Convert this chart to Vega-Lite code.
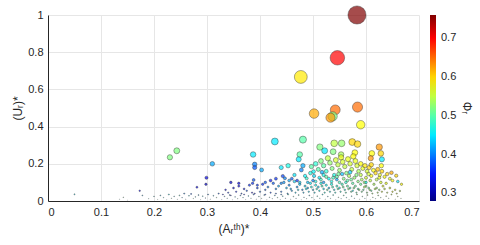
{
  "$schema": "https://vega.github.io/schema/vega-lite/v6.json",
  "width": 371,
  "height": 186,
  "autosize": {"type": "none"},
  "padding": {"left": 48, "top": 15, "right": 61, "bottom": 44},
  "background": "white",
  "config": {
    "view": {"stroke": null},
    "font": "Liberation Sans",
    "axis": {"labelFont": "Liberation Sans", "titleFont": "Liberation Sans", "labelColor": "#262626", "titleColor": "#262626", "labelFontSize": 11, "titleFontSize": 12, "titleFontWeight": "normal", "domainColor": "#262626", "domainWidth": 1, "ticks": false, "gridColor": "#e6e6e6", "gridWidth": 1},
    "legend": {"labelFont": "Liberation Sans", "titleFont": "Liberation Sans", "labelColor": "#262626", "titleColor": "#262626", "labelFontSize": 11, "titleFontSize": 12, "titleFontWeight": "normal"}
  },
  "data": {"values": [
    {"A":0.583,"U":1.0,"phi":0.76},{"A":0.546,"U":0.77,"phi":0.70},{"A":0.477,"U":0.667,"phi":0.59},{"A":0.502,"U":0.47,"phi":0.62},
    {"A":0.542,"U":0.49,"phi":0.65},{"A":0.584,"U":0.505,"phi":0.65},{"A":0.537,"U":0.455,"phi":0.52},{"A":0.533,"U":0.448,"phi":0.63},
    {"A":0.59,"U":0.41,"phi":0.58},{"A":0.428,"U":0.32,"phi":0.45},{"A":0.481,"U":0.33,"phi":0.5},{"A":0.387,"U":0.25,"phi":0.45},
    {"A":0.513,"U":0.29,"phi":0.52},{"A":0.54,"U":0.31,"phi":0.55},{"A":0.554,"U":0.31,"phi":0.53},{"A":0.574,"U":0.317,"phi":0.6},
    {"A":0.584,"U":0.306,"phi":0.6},{"A":0.625,"U":0.29,"phi":0.63},{"A":0.628,"U":0.256,"phi":0.6},{"A":0.63,"U":0.224,"phi":0.45},
    {"A":0.611,"U":0.256,"phi":0.58},{"A":0.609,"U":0.23,"phi":0.63},{"A":0.475,"U":0.25,"phi":0.5},{"A":0.473,"U":0.224,"phi":0.45},
    {"A":0.39,"U":0.197,"phi":0.4},{"A":0.39,"U":0.18,"phi":0.38},{"A":0.403,"U":0.167,"phi":0.42},{"A":0.44,"U":0.18,"phi":0.45},
    {"A":0.453,"U":0.19,"phi":0.47},{"A":0.23,"U":0.235,"phi":0.52},{"A":0.243,"U":0.27,"phi":0.52},{"A":0.31,"U":0.2,"phi":0.42},
    {"A":0.299,"U":0.125,"phi":0.33},{"A":0.298,"U":0.09,"phi":0.32},{"A":0.281,"U":0.074,"phi":0.34},{"A":0.05,"U":0.036,"phi":0.45},
    {"A":0.173,"U":0.055,"phi":0.34},{"A":0.522,"U":0.27,"phi":0.45},{"A":0.538,"U":0.265,"phi":0.52},{"A":0.553,"U":0.25,"phi":0.54},
    {"A":0.579,"U":0.26,"phi":0.58},{"A":0.629,"U":0.19,"phi":0.58},{"A":0.648,"U":0.152,"phi":0.62},{"A":0.657,"U":0.136,"phi":0.6},
    {"A":0.667,"U":0.09,"phi":0.58},{"A":0.664,"U":0.054,"phi":0.55},{"A":0.632,"U":0.08,"phi":0.57},{"A":0.481,"U":0.19,"phi":0.42},
    {"A":0.478,"U":0.167,"phi":0.4},{"A":0.388,"U":0.113,"phi":0.38},{"A":0.386,"U":0.095,"phi":0.36},{"A":0.443,"U":0.134,"phi":0.37},
    {"A":0.447,"U":0.122,"phi":0.4},{"A":0.465,"U":0.14,"phi":0.45},{"A":0.488,"U":0.122,"phi":0.48},{"A":0.497,"U":0.185,"phi":0.5},
    {"A":0.501,"U":0.158,"phi":0.46},
    {"A":0.505,"U":0.2,"phi":0.48},{"A":0.51,"U":0.17,"phi":0.5},{"A":0.515,"U":0.215,"phi":0.52},{"A":0.52,"U":0.19,"phi":0.5},
    {"A":0.525,"U":0.16,"phi":0.48},{"A":0.528,"U":0.23,"phi":0.55},{"A":0.532,"U":0.205,"phi":0.53},{"A":0.536,"U":0.175,"phi":0.52},
    {"A":0.54,"U":0.14,"phi":0.47},{"A":0.543,"U":0.22,"phi":0.56},{"A":0.547,"U":0.195,"phi":0.55},{"A":0.55,"U":0.165,"phi":0.53},
    {"A":0.553,"U":0.235,"phi":0.57},{"A":0.556,"U":0.21,"phi":0.56},{"A":0.56,"U":0.185,"phi":0.55},{"A":0.563,"U":0.15,"phi":0.52},
    {"A":0.566,"U":0.225,"phi":0.57},{"A":0.57,"U":0.2,"phi":0.56},{"A":0.573,"U":0.17,"phi":0.55},{"A":0.576,"U":0.24,"phi":0.58},
    {"A":0.58,"U":0.215,"phi":0.57},{"A":0.583,"U":0.19,"phi":0.56},{"A":0.586,"U":0.16,"phi":0.54},{"A":0.59,"U":0.2,"phi":0.58},
    {"A":0.594,"U":0.175,"phi":0.57},{"A":0.598,"U":0.19,"phi":0.59},{"A":0.602,"U":0.16,"phi":0.56},{"A":0.606,"U":0.18,"phi":0.6},
    {"A":0.61,"U":0.195,"phi":0.6},{"A":0.614,"U":0.165,"phi":0.58},{"A":0.618,"U":0.15,"phi":0.6},{"A":0.622,"U":0.17,"phi":0.61},
    {"A":0.626,"U":0.14,"phi":0.57},{"A":0.63,"U":0.16,"phi":0.6},{"A":0.635,"U":0.13,"phi":0.58},{"A":0.64,"U":0.145,"phi":0.6},
    {"A":0.645,"U":0.12,"phi":0.57},{"A":0.65,"U":0.11,"phi":0.58},{"A":0.66,"U":0.105,"phi":0.45},{"A":0.52,"U":0.14,"phi":0.47},
    {"A":0.53,"U":0.12,"phi":0.46},{"A":0.545,"U":0.13,"phi":0.5},{"A":0.558,"U":0.12,"phi":0.52},{"A":0.568,"U":0.135,"phi":0.54},
    {"A":0.578,"U":0.125,"phi":0.53},{"A":0.59,"U":0.14,"phi":0.55},{"A":0.6,"U":0.125,"phi":0.56},{"A":0.61,"U":0.135,"phi":0.58},
    {"A":0.62,"U":0.115,"phi":0.55},{"A":0.512,"U":0.125,"phi":0.45},{"A":0.502,"U":0.135,"phi":0.44},{"A":0.495,"U":0.15,"phi":0.47},
    {"A":0.49,"U":0.1,"phi":0.43},{"A":0.535,"U":0.105,"phi":0.47},{"A":0.55,"U":0.1,"phi":0.49},{"A":0.565,"U":0.11,"phi":0.5},
    {"A":0.575,"U":0.095,"phi":0.5},{"A":0.585,"U":0.105,"phi":0.52},{"A":0.597,"U":0.1,"phi":0.53},{"A":0.608,"U":0.11,"phi":0.55},
    {"A":0.628,"U":0.1,"phi":0.56},{"A":0.638,"U":0.095,"phi":0.57},{"A":0.615,"U":0.09,"phi":0.54},{"A":0.555,"U":0.145,"phi":0.43},
    {"A":0.517,"U":0.155,"phi":0.42},{"A":0.57,"U":0.155,"phi":0.44},
    {"A":0.505,"U":0.105,"phi":0.47},{"A":0.515,"U":0.115,"phi":0.49},{"A":0.525,"U":0.13,"phi":0.5},{"A":0.538,"U":0.125,"phi":0.49},
    {"A":0.548,"U":0.145,"phi":0.51},{"A":0.562,"U":0.1,"phi":0.48},{"A":0.572,"U":0.115,"phi":0.51},{"A":0.582,"U":0.14,"phi":0.52},
    {"A":0.592,"U":0.115,"phi":0.54},{"A":0.605,"U":0.145,"phi":0.56},{"A":0.625,"U":0.125,"phi":0.57},{"A":0.485,"U":0.135,"phi":0.46},
    {"A":0.475,"U":0.1,"phi":0.44},{"A":0.455,"U":0.11,"phi":0.42},{"A":0.44,"U":0.095,"phi":0.4},{"A":0.41,"U":0.1,"phi":0.38},
    {"A":0.395,"U":0.085,"phi":0.36},
    {"A":0.335,"U":0.06,"phi":0.34},{"A":0.34,"U":0.045,"phi":0.36},{"A":0.35,"U":0.07,"phi":0.33},{"A":0.355,"U":0.05,"phi":0.35},
    {"A":0.36,"U":0.08,"phi":0.34},{"A":0.365,"U":0.04,"phi":0.37},{"A":0.37,"U":0.065,"phi":0.35},{"A":0.375,"U":0.055,"phi":0.38},
    {"A":0.38,"U":0.085,"phi":0.36},{"A":0.385,"U":0.045,"phi":0.34},{"A":0.395,"U":0.07,"phi":0.37},{"A":0.4,"U":0.05,"phi":0.39},
    {"A":0.405,"U":0.09,"phi":0.36},{"A":0.41,"U":0.06,"phi":0.38},{"A":0.415,"U":0.075,"phi":0.4},{"A":0.42,"U":0.045,"phi":0.37},
    {"A":0.425,"U":0.095,"phi":0.38},{"A":0.43,"U":0.065,"phi":0.4},{"A":0.435,"U":0.08,"phi":0.42},{"A":0.44,"U":0.05,"phi":0.39},
    {"A":0.445,"U":0.1,"phi":0.41},{"A":0.45,"U":0.07,"phi":0.43},{"A":0.455,"U":0.085,"phi":0.4},{"A":0.46,"U":0.055,"phi":0.42},
    {"A":0.465,"U":0.105,"phi":0.44},{"A":0.47,"U":0.075,"phi":0.41},{"A":0.475,"U":0.09,"phi":0.43},{"A":0.48,"U":0.06,"phi":0.4},
    {"A":0.485,"U":0.08,"phi":0.44},{"A":0.49,"U":0.07,"phi":0.42},{"A":0.495,"U":0.095,"phi":0.45},{"A":0.5,"U":0.06,"phi":0.43},
    {"A":0.505,"U":0.085,"phi":0.46},{"A":0.51,"U":0.075,"phi":0.44},{"A":0.515,"U":0.095,"phi":0.47},{"A":0.52,"U":0.065,"phi":0.45},
    {"A":0.525,"U":0.085,"phi":0.46},{"A":0.53,"U":0.07,"phi":0.43},{"A":0.535,"U":0.09,"phi":0.47},{"A":0.54,"U":0.06,"phi":0.45},
    {"A":0.545,"U":0.08,"phi":0.48},{"A":0.55,"U":0.07,"phi":0.46},{"A":0.555,"U":0.09,"phi":0.49},{"A":0.56,"U":0.06,"phi":0.47},
    {"A":0.565,"U":0.08,"phi":0.5},{"A":0.57,"U":0.07,"phi":0.48},{"A":0.575,"U":0.055,"phi":0.46},{"A":0.58,"U":0.08,"phi":0.5},
    {"A":0.585,"U":0.065,"phi":0.49},{"A":0.59,"U":0.09,"phi":0.51},{"A":0.595,"U":0.06,"phi":0.5},{"A":0.6,"U":0.08,"phi":0.52},
    {"A":0.605,"U":0.07,"phi":0.51},{"A":0.61,"U":0.055,"phi":0.5},{"A":0.62,"U":0.07,"phi":0.53},{"A":0.625,"U":0.06,"phi":0.52},
    {"A":0.635,"U":0.065,"phi":0.55},{"A":0.645,"U":0.07,"phi":0.56},{"A":0.655,"U":0.06,"phi":0.57},{"A":0.36,"U":0.095,"phi":0.33},
    {"A":0.345,"U":0.1,"phi":0.32},{"A":0.42,"U":0.11,"phi":0.35},{"A":0.46,"U":0.12,"phi":0.38},{"A":0.47,"U":0.11,"phi":0.36},
    {"A":0.43,"U":0.12,"phi":0.36},{"A":0.5,"U":0.11,"phi":0.4},{"A":0.52,"U":0.1,"phi":0.41},{"A":0.545,"U":0.115,"phi":0.42},
    {"A":0.6,"U":0.1,"phi":0.47},
    {"A":0.452,"U":0.04,"phi":0.4},{"A":0.458,"U":0.065,"phi":0.42},{"A":0.467,"U":0.045,"phi":0.44},{"A":0.472,"U":0.06,"phi":0.45},
    {"A":0.482,"U":0.045,"phi":0.43},{"A":0.487,"U":0.065,"phi":0.46},{"A":0.492,"U":0.05,"phi":0.44},{"A":0.497,"U":0.075,"phi":0.47},
    {"A":0.503,"U":0.045,"phi":0.45},{"A":0.507,"U":0.065,"phi":0.48},{"A":0.512,"U":0.055,"phi":0.46},{"A":0.517,"U":0.08,"phi":0.49},
    {"A":0.522,"U":0.045,"phi":0.47},{"A":0.527,"U":0.06,"phi":0.5},{"A":0.532,"U":0.05,"phi":0.46},{"A":0.537,"U":0.075,"phi":0.49},
    {"A":0.542,"U":0.045,"phi":0.47},{"A":0.547,"U":0.065,"phi":0.5},{"A":0.552,"U":0.05,"phi":0.48},{"A":0.557,"U":0.075,"phi":0.51},
    {"A":0.562,"U":0.045,"phi":0.49},{"A":0.567,"U":0.065,"phi":0.52},{"A":0.572,"U":0.05,"phi":0.5},{"A":0.577,"U":0.07,"phi":0.52},
    {"A":0.582,"U":0.045,"phi":0.5},{"A":0.587,"U":0.06,"phi":0.53},{"A":0.592,"U":0.05,"phi":0.51},{"A":0.597,"U":0.075,"phi":0.54},
    {"A":0.602,"U":0.045,"phi":0.52},{"A":0.607,"U":0.06,"phi":0.54},{"A":0.612,"U":0.04,"phi":0.53},{"A":0.617,"U":0.065,"phi":0.55},
    {"A":0.622,"U":0.045,"phi":0.54},{"A":0.63,"U":0.05,"phi":0.56},{"A":0.64,"U":0.045,"phi":0.55},{"A":0.65,"U":0.05,"phi":0.57},
    {"A":0.658,"U":0.04,"phi":0.56},
    {"A":0.33,"U":0.035,"phi":0.35},{"A":0.345,"U":0.03,"phi":0.34},{"A":0.37,"U":0.035,"phi":0.36},{"A":0.39,"U":0.04,"phi":0.35},
    {"A":0.41,"U":0.035,"phi":0.37},{"A":0.43,"U":0.04,"phi":0.38},{"A":0.44,"U":0.035,"phi":0.4},
    {"A":0.135,"U":0.01,"phi":0.45},{"A":0.142,"U":0.02,"phi":0.5},{"A":0.15,"U":0.005,"phi":0.4},{"A":0.178,"U":0.03,"phi":0.42},
    {"A":0.19,"U":0.012,"phi":0.48},{"A":0.2,"U":0.025,"phi":0.45},{"A":0.207,"U":0.008,"phi":0.5},{"A":0.212,"U":0.03,"phi":0.43},
    {"A":0.218,"U":0.018,"phi":0.47},{"A":0.224,"U":0.006,"phi":0.4},{"A":0.228,"U":0.035,"phi":0.45},{"A":0.233,"U":0.015,"phi":0.5},
    {"A":0.238,"U":0.025,"phi":0.44},{"A":0.244,"U":0.009,"phi":0.46},{"A":0.248,"U":0.03,"phi":0.48},{"A":0.253,"U":0.018,"phi":0.42},
    {"A":0.257,"U":0.04,"phi":0.4},{"A":0.26,"U":0.01,"phi":0.47},{"A":0.266,"U":0.028,"phi":0.45},{"A":0.27,"U":0.038,"phi":0.38},
    {"A":0.274,"U":0.013,"phi":0.5},{"A":0.278,"U":0.022,"phi":0.44},{"A":0.284,"U":0.032,"phi":0.42},{"A":0.288,"U":0.007,"phi":0.48},
    {"A":0.292,"U":0.026,"phi":0.45},{"A":0.297,"U":0.016,"phi":0.41},{"A":0.302,"U":0.035,"phi":0.4},{"A":0.306,"U":0.01,"phi":0.46},
    {"A":0.312,"U":0.028,"phi":0.43},{"A":0.318,"U":0.018,"phi":0.5},{"A":0.322,"U":0.04,"phi":0.38},{"A":0.328,"U":0.008,"phi":0.45},
    {"A":0.333,"U":0.025,"phi":0.42},{"A":0.338,"U":0.015,"phi":0.48},{"A":0.343,"U":0.032,"phi":0.4},{"A":0.348,"U":0.006,"phi":0.46},
    {"A":0.353,"U":0.022,"phi":0.44},{"A":0.358,"U":0.012,"phi":0.5},{"A":0.363,"U":0.03,"phi":0.41},{"A":0.368,"U":0.018,"phi":0.47},
    {"A":0.373,"U":0.008,"phi":0.43},{"A":0.378,"U":0.027,"phi":0.45},{"A":0.383,"U":0.015,"phi":0.49},{"A":0.388,"U":0.035,"phi":0.4},
    {"A":0.393,"U":0.01,"phi":0.46},{"A":0.398,"U":0.024,"phi":0.44},{"A":0.403,"U":0.014,"phi":0.5},{"A":0.408,"U":0.032,"phi":0.42},
    {"A":0.413,"U":0.006,"phi":0.47},{"A":0.418,"U":0.02,"phi":0.45},{"A":0.423,"U":0.012,"phi":0.48},{"A":0.428,"U":0.03,"phi":0.43},
    {"A":0.433,"U":0.018,"phi":0.5},{"A":0.438,"U":0.008,"phi":0.44},{"A":0.443,"U":0.026,"phi":0.46},{"A":0.448,"U":0.015,"phi":0.41},
    {"A":0.453,"U":0.035,"phi":0.47},{"A":0.458,"U":0.01,"phi":0.45},{"A":0.463,"U":0.024,"phi":0.5},{"A":0.468,"U":0.014,"phi":0.43},
    {"A":0.473,"U":0.032,"phi":0.48},{"A":0.478,"U":0.006,"phi":0.46},{"A":0.483,"U":0.02,"phi":0.44},{"A":0.488,"U":0.012,"phi":0.5},
    {"A":0.493,"U":0.03,"phi":0.42},{"A":0.498,"U":0.018,"phi":0.47},{"A":0.503,"U":0.008,"phi":0.45},{"A":0.508,"U":0.026,"phi":0.49},
    {"A":0.513,"U":0.015,"phi":0.44},{"A":0.518,"U":0.035,"phi":0.46},{"A":0.523,"U":0.01,"phi":0.5},{"A":0.528,"U":0.024,"phi":0.43},
    {"A":0.533,"U":0.014,"phi":0.48},{"A":0.538,"U":0.032,"phi":0.47},{"A":0.543,"U":0.006,"phi":0.45},{"A":0.548,"U":0.02,"phi":0.5},
    {"A":0.553,"U":0.012,"phi":0.44},{"A":0.558,"U":0.03,"phi":0.49},{"A":0.563,"U":0.018,"phi":0.46},{"A":0.568,"U":0.008,"phi":0.5},
    {"A":0.573,"U":0.026,"phi":0.47},{"A":0.578,"U":0.015,"phi":0.45},{"A":0.583,"U":0.035,"phi":0.52},{"A":0.588,"U":0.01,"phi":0.48},
    {"A":0.593,"U":0.024,"phi":0.5},{"A":0.598,"U":0.014,"phi":0.46},{"A":0.603,"U":0.032,"phi":0.53},{"A":0.608,"U":0.006,"phi":0.49},
    {"A":0.613,"U":0.02,"phi":0.51},{"A":0.618,"U":0.012,"phi":0.47},{"A":0.623,"U":0.03,"phi":0.52},{"A":0.628,"U":0.018,"phi":0.5},
    {"A":0.633,"U":0.008,"phi":0.48},{"A":0.638,"U":0.026,"phi":0.54},{"A":0.643,"U":0.015,"phi":0.5},{"A":0.648,"U":0.035,"phi":0.55},
    {"A":0.655,"U":0.01,"phi":0.52},{"A":0.66,"U":0.024,"phi":0.56},{"A":0.666,"U":0.014,"phi":0.53}
  ]},
  "mark": {"type": "point", "shape": "circle", "filled": true, "fillOpacity": 0.7, "stroke": "#2e2e2e", "strokeWidth": 0.55, "strokeOpacity": 0.75},
  "encoding": {
    "x": {"field": "A", "type": "quantitative", "title": "(Aᵣᵗʰ)*",
      "scale": {"domain": [0, 0.7], "nice": false, "zero": false},
      "axis": {"values": [0, 0.1, 0.2, 0.3, 0.4, 0.5, 0.6, 0.7], "format": ".1~f", "labelPadding": 5, "titlePadding": 6}},
    "y": {"field": "U", "type": "quantitative", "title": "(Uᵣ)*",
      "scale": {"domain": [0, 1], "nice": false},
      "axis": {"values": [0, 0.2, 0.4, 0.6, 0.8, 1], "format": ".1~f", "labelPadding": 5, "titlePadding": 3}},
    "size": {"field": "U", "type": "quantitative", "legend": null,
      "scale": {"type": "pow", "exponent": 1.7, "domain": [0, 1], "range": [0, 330], "zero": true}},
    "color": {"field": "phi", "type": "quantitative", "title": "Φᵣ",
      "scale": {"domain": [0.28, 0.34, 0.40, 0.46, 0.52, 0.58, 0.64, 0.70, 0.76],
        "range": ["#000080", "#0000ff", "#0080ff", "#00ffff", "#80ff80", "#ffff00", "#ff8000", "#ff0000", "#800000"],
        "interpolate": "rgb"},
      "legend": {"orient": "none", "legendX": 382, "legendY": 0, "direction": "vertical", "gradientLength": 186, "gradientThickness": 6,
        "gradientStrokeWidth": 0, "values": [0.3, 0.4, 0.5, 0.6, 0.7], "format": ".1f", "labelOverlap": false, "labelOffset": 5,
        "titleOrient": "right", "titleAngle": 270, "titlePadding": 11, "titleAnchor": "middle", "titleBaseline": "middle"}}
  }
}
